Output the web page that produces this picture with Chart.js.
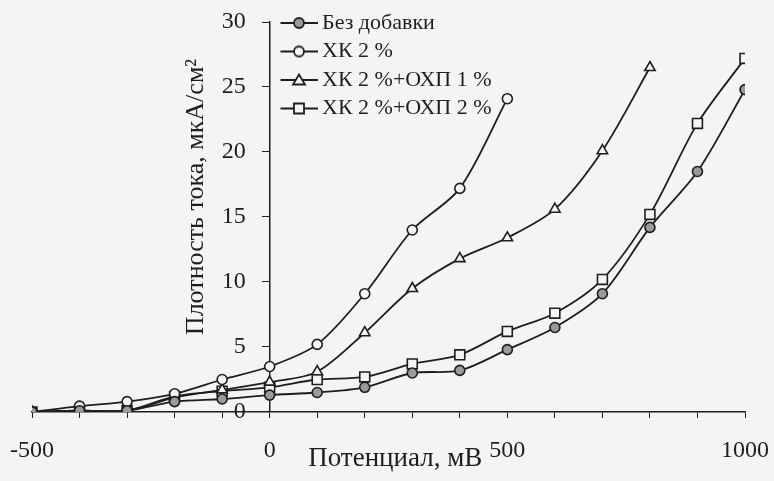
<!DOCTYPE html>
<html>
<head>
<meta charset="utf-8">
<script src="https://cdn.jsdelivr.net/npm/chart.js@4/dist/chart.umd.min.js"></script>
<style>
  body { margin: 0; background: #f4f4f2; }
  #caixa { width: 774px; height: 481px; position: relative; }
</style>
</head>
<body>
<div id="caixa"><canvas id="grafico"></canvas></div>
<script>
// Dados (potencial em mV, densidade de corrente em мкА/см²)
const potencial = [-500, -400, -300, -200, -100, 0, 100, 200, 300, 400, 500, 600, 700, 800, 900, 1000];
const semAditivo = [0, 0.1, 0.1, 0.8, 1.0, 1.3, 1.5, 1.9, 3.0, 3.2, 4.8, 6.5, 9.1, 14.2, 18.5, 24.8];
const hk2 = [0, 0.45, 0.8, 1.4, 2.5, 3.5, 5.2, 9.1, 14.0, 17.2, 24.1];
const hk2ohp1 = [0, 0.1, 0.1, 1.1, 1.7, 2.3, 3.1, 6.1, 9.5, 11.8, 13.4, 15.6, 20.1, 26.5];
const hk2ohp2 = [0, 0.1, 0.1, 1.2, 1.6, 1.9, 2.5, 2.7, 3.7, 4.4, 6.2, 7.6, 10.2, 15.2, 22.2, 27.2];
const rotulos = ['Без добавки', 'ХК 2 %', 'ХК 2 %+ОХП 1 %', 'ХК 2 %+ОХП 2 %'];
const rotulosX = [-500, 0, 500, 1000];

const corLinha = '#1e1e1e';
const fundo = '#f4f4f2';
const cinza = '#9a9a9a';
const fonte = 'Liberation Serif';

function pontos(valores) {
    return valores.map((v, i) => ({ x: potencial[i], y: v }));
}

// ícone da legenda: segmento de linha com o marcador no meio
function icone(estilo, preenchimento) {
    const c = document.createElement('canvas');
    c.width = 40;
    c.height = 16;
    const g = c.getContext('2d');
    g.strokeStyle = corLinha;
    g.lineWidth = 1.8;
    g.beginPath();
    g.moveTo(1, 8);
    g.lineTo(39, 8);
    g.stroke();
    g.fillStyle = preenchimento;
    g.beginPath();
    if (estilo === 'circle') {
        g.arc(20, 8, 5, 0, Math.PI * 2);
    } else if (estilo === 'triangle') {
        g.moveTo(20, 2.5);
        g.lineTo(26, 12.5);
        g.lineTo(14, 12.5);
        g.closePath();
    } else {
        g.rect(15, 3, 10, 10);
    }
    g.fill();
    g.stroke();
    return c;
}

const icones = [
    icone('circle', cinza),
    icone('circle', fundo),
    icone('triangle', fundo),
    icone('rect', fundo)
];

function serie(i, valores, estilo, preenchimento, raio) {
    return {
        label: rotulos[i],
        data: pontos(valores),
        borderColor: corLinha,
        borderWidth: 1.8,
        backgroundColor: preenchimento,
        pointStyle: estilo,
        pointRadius: raio,
        pointBackgroundColor: preenchimento,
        pointBorderColor: corLinha,
        pointBorderWidth: 1.6,
        tension: 0.3
    };
}

// reposiciona a legenda e escreve o título do eixo Y (lido de baixo para cima)
const ajustes = {
    id: 'ajustes',
    afterLayout(chart) {
        chart.legend.left = 280.5;
        chart.legend.top = 5.5;
    },
    afterDraw(chart) {
        const ctx = chart.ctx;
        const x0 = chart.scales.x.getPixelForValue(0);
        ctx.save();
        ctx.translate(x0 - 73, 197);
        ctx.rotate(-Math.PI / 2);
        ctx.font = '26px "' + fonte + '"';
        ctx.fillStyle = corLinha;
        ctx.textAlign = 'center';
        ctx.textBaseline = 'middle';
        ctx.fillText('Плотность тока, мкА/см²', 0, 0);
        ctx.restore();
    }
};

const ctx = document.getElementById('grafico').getContext('2d');

const grafico = new Chart(ctx, {
    type: 'line',
    data: {
        datasets: [
            serie(0, semAditivo, 'circle', cinza, 5),
            serie(1, hk2, 'circle', fundo, 5),
            serie(2, hk2ohp1, 'triangle', fundo, 6),
            serie(3, hk2ohp2, 'rect', fundo, 7)
        ]
    },
    options: {
        responsive: true,
        maintainAspectRatio: false,
        animation: false,
        layout: {
            padding: { left: 32, right: 29, top: 22, bottom: 0 }
        },
        plugins: {
            legend: {
                position: 'chartArea',
                align: 'start',
                labels: {
                    usePointStyle: true,
                    pointStyleWidth: 24,
                    padding: 6.5,
                    color: corLinha,
                    font: { family: fonte, size: 22 },
                    generateLabels: (chart) => {
                        const itens = Chart.defaults.plugins.legend.labels.generateLabels(chart);
                        itens.forEach((item, i) => { item.pointStyle = icones[i]; });
                        return itens;
                    }
                }
            },
            tooltip: { enabled: false }
        },
        scales: {
            x: {
                type: 'linear',
                position: 'bottom',
                min: -500,
                max: 1000,
                border: { color: corLinha, width: 1.5 },
                grid: { drawOnChartArea: false, tickLength: 6, color: corLinha },
                ticks: {
                    stepSize: 100,
                    autoSkip: false,
                    maxRotation: 0,
                    padding: 4,
                    color: corLinha,
                    font: { family: fonte, size: 24, lineHeight: 2.4167 },
                    callback: (v) => rotulosX.includes(Math.round(v)) ? Math.round(v) : ''
                },
                title: {
                    display: true,
                    text: '  Потенциал, мВ',
                    color: corLinha,
                    font: { family: fonte, size: 27 },
                    padding: { top: -41.2, bottom: 5.8 }
                }
            },
            y: {
                type: 'linear',
                position: { x: 0 },
                min: 0,
                max: 30,
                border: { color: corLinha, width: 1.5 },
                grid: { drawOnChartArea: false, tickLength: 7, color: corLinha },
                ticks: {
                    stepSize: 5,
                    color: corLinha,
                    font: { family: fonte, size: 24, lineHeight: 0.5 },
                    // o rótulo fica colado ao eixo; o espaço final o afasta da linha
                    callback: (v) => v + '\u2003'
                }
            }
        }
    },
    plugins: [ajustes]
});
</script>
</body>
</html>
